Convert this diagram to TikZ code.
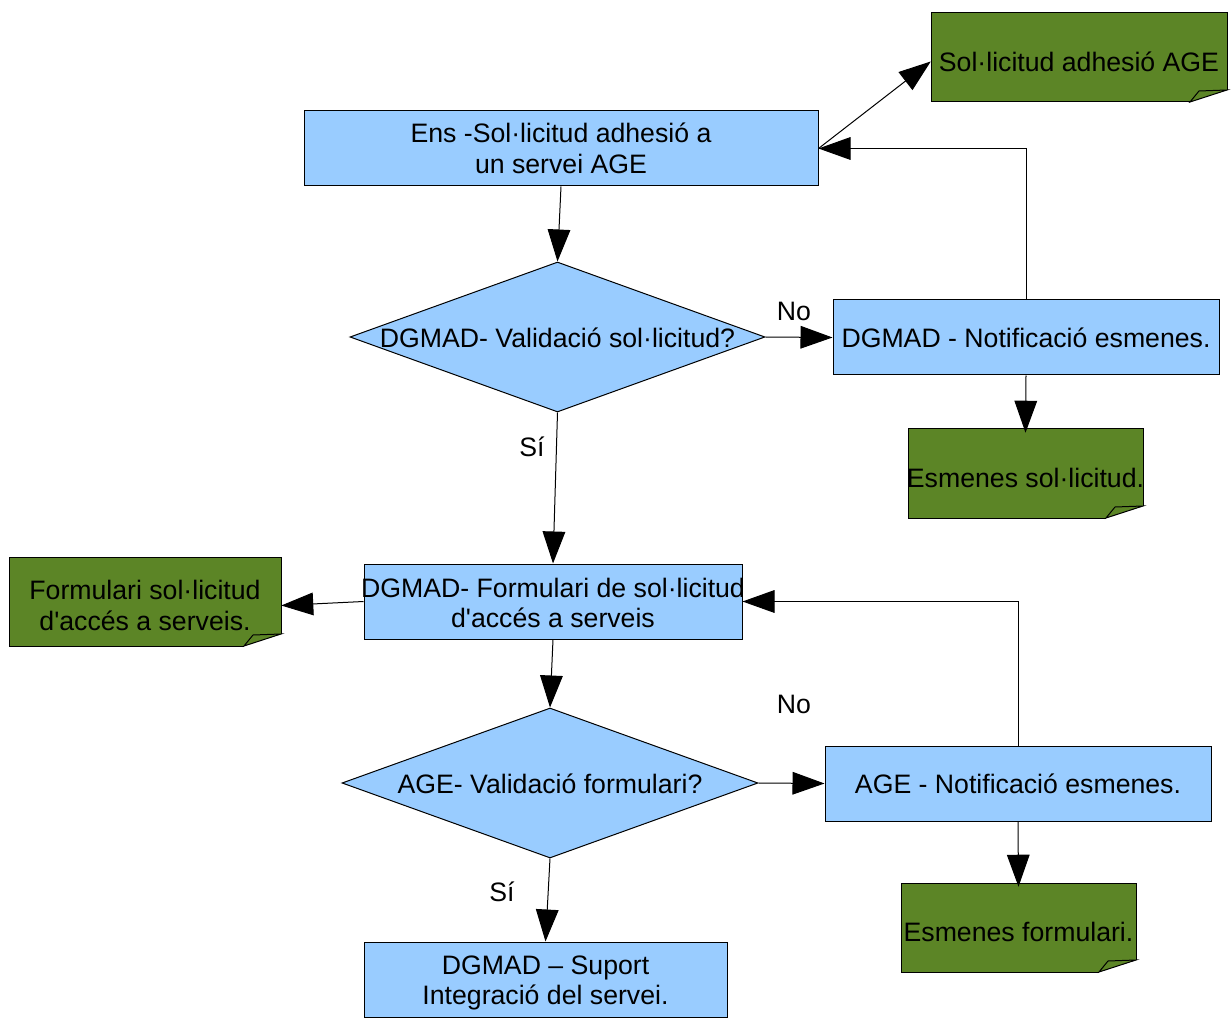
\documentclass[tikz,border=0pt]{standalone}
\usepackage{fontspec}
\setmainfont{Liberation Sans}
\usetikzlibrary{arrows.meta,shapes.geometric}
\definecolor{boxblue}{HTML}{99CCFF}
\definecolor{notegreen}{HTML}{5C8526}
\tikzset{
  every node/.style={font=\fontsize{20}{23}\selectfont, inner sep=0pt, align=center},
  procbox/.style={rectangle, draw=black, line width=0.75pt, fill=boxblue, minimum height=56.25pt},
  decision/.style={diamond, draw=black, line width=0.75pt, fill=boxblue, minimum height=112.5pt},
  conn/.style={line width=0.75pt, -{Triangle[length=24pt,width=17pt]}},
  lbl/.style={},
}
\newcommand\foldnote[6]{%
  \fill[notegreen] (#2,#3) -- (#4,#3) -- (#4,#5-12) -- (#4-37,#5) -- (#2,#5) -- cycle;
  \draw[line width=0.75pt] (#2,#3) -- (#4,#3) -- (#4,#5-12);
  \draw[line width=0.75pt] (#4-37,#5) -- (#2,#5) -- (#2,#3);
  \filldraw[fill=notegreen, line width=0.75pt] (#4,#5-12) .. controls (#4-14,#5-11) .. (#4-28,#5-11) -- (#4-37,#5) -- cycle;
  \node[minimum width={(#4-#2)*0.75pt}, minimum height={(#5-#3)*0.75pt}] (#1) at ({(#2+#4)/2},{(#3+#5)/2+4}) {#6};
}
\begin{document}
\begin{tikzpicture}[x=0.75pt,y=-0.75pt]
\useasboundingbox (0,0) rectangle (1232,1023);
% process boxes
\node[procbox, minimum width=385.5pt] (b1) at (561,148.5) {Ens -Sol·licitud adhesió a\\un servei AGE};
\node[decision, minimum width=311.25pt] (d1) at (557.5,337) {};
\node (d1t) at (557.5,338) {DGMAD- Validació sol·licitud?};
\node[procbox, minimum width=289.5pt] (nb1) at (1026,337.5) {DGMAD - Notificació esmenes.};
\node[procbox, minimum width=283.5pt] (b2) at (553,601.5) {};
\node (b2t) at (553,603) {DGMAD- Formulari de sol·licitud\\d\textquotesingle accés a serveis};
\node[decision, minimum width=312pt] (d2) at (550,783) {};
\node (d2t) at (550,784) {AGE- Validació formulari?};
\node[procbox, minimum width=289.5pt] (nb2) at (1018,783.5) {AGE - Notificació esmenes.};
\node[procbox, minimum width=272.25pt] (b3) at (545.5,979.5) {};
\node (b3t) at (545.5,983) {DGMAD -- Suport\\Integració del servei.};
% notes
\foldnote{n1}{931}{13}{1227}{102}{Sol·licitud adhesió AGE}
\foldnote{n2}{908}{429}{1143}{518}{Esmenes sol·licitud.}
\foldnote{n3}{9}{557}{281}{646}{Formulari sol·licitud\\d\textquotesingle accés a serveis.}
\foldnote{n4}{901}{883}{1136}{972}{Esmenes formulari.}
% labels
\node[lbl] (no1) at (794,311) {No};
\node[lbl] (si1) at (532,447) {Sí};
\node[lbl] (no2) at (794,704) {No};
\node[lbl] (si2) at (502,892) {Sí};
% connectors
\draw[conn] (b1.south) -- (d1.north);
\draw[conn] (d1.east) -- (nb1.west);
\draw[conn] (d1.south) -- (b2.north);
\draw[conn] (nb1.north) |- (b1.east);
\draw[conn] (b1.east) -- (n1.west);
\draw[conn] (nb1.south) -- (n2.north);
\draw[conn] (b2.south) -- (d2.north);
\draw[conn] (b2.west) -- (n3.east);
\draw[conn] (d2.east) -- (nb2.west);
\draw[conn] (d2.south) -- (b3.north);
\draw[conn] (nb2.north) |- (b2.east);
\draw[conn] (nb2.south) -- (n4.north);
\end{tikzpicture}
\end{document}
